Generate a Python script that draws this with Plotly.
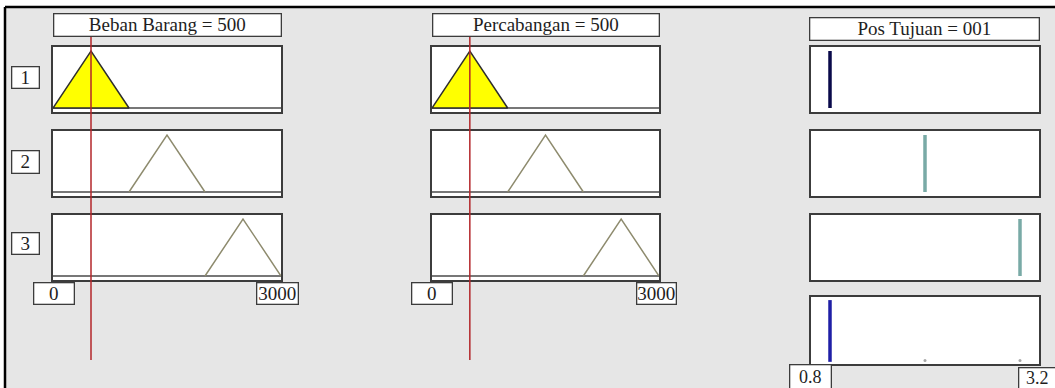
import plotly.graph_objects as go

# ---- data -----------------------------------------------------------------
input_names = ["Beban Barang", "Percabangan"]
input_values = [500, 500]
input_range = [0, 3000]
input_range_labels = ["0", "3000"]

# triangular membership functions (same for both inputs)
mf_left = [0, 1000, 2000]
mf_peak = [500, 1500, 2500]
mf_right = [1000, 2000, 3000]

rule_labels = ["1", "2", "3"]

output_name = "Pos Tujuan"
output_text = "001"
output_levels = [1, 2, 3]          # singleton outputs for rules 1..3
output_range = [0.8, 3.2]
output_range_labels = ["0.8", "3.2"]

# ---- page geometry (pixels) -----------------------------------------------
W, H = 1055, 388
col_x = [(53, 281), (432, 659), (811, 1039)]
row_y = [(47, 112), (131, 196), (215, 280), (297, 364)]
title_y = [(13, 36), (13, 36), (17, 40)]
row_label_x = (11, 39)
row_label_y = [(66, 88), (150, 173), (232, 254)]
range_label_y = (282, 304)
range_label_x = [[(33, 74), (256, 298)], [(411, 452), (636, 676)]]
out_label_x = [(789, 831), (1018, 1056)]
out_label_y = [(364, 389), (367, 389)]

FONT = "Liberation Serif"
FRAME = "#3c3c3c"
BG = "#e6e6e6"
YELLOW = "#ffff00"
UNFIRED = "#8e8b6e"
RED = "#b3262a"
NAVY = "#0a0a4a"
TEAL = "#79aaa6"
BLUE = "#1f1fa6"


def px_x(a, b):
    return [a / W, b / W]


def px_y(t, b):
    return [1 - b / H, 1 - t / H]


def tri(x, l, p, r):
    if x <= l or x >= r:
        return 0.0
    return (x - l) / (p - l) if x <= p else (r - x) / (r - p)


# rule firing strength = min of the input memberships
firing = []
for r in range(3):
    degs = [tri(v, mf_left[r], mf_peak[r], mf_right[r]) for v in input_values]
    firing.append(min(degs))

fig = go.Figure()
layout = {}
annotations = []
shapes = []


def add_axis(k, cx, ry, xr, yr):
    common = dict(showgrid=False, zeroline=False, showticklabels=False, ticks="",
                  showline=True, mirror=True, linecolor=FRAME, linewidth=1.6,
                  fixedrange=True)
    layout[f"xaxis{k}"] = dict(domain=px_x(*cx), range=xr, anchor=f"y{k}", **common)
    layout[f"yaxis{k}"] = dict(domain=px_y(*ry), range=yr, anchor=f"x{k}", **common)


def box(text, xs, ys, size=19):
    (x0, x1), (y0, y1) = xs, ys
    annotations.append(dict(
        text=text, xref="paper", yref="paper", x=x0 / W, y=1 - y0 / H,
        xanchor="left", yanchor="top", showarrow=False,
        width=x1 - x0 - 2, height=y1 - y0 - 2, borderpad=0,
        bgcolor="white", bordercolor=FRAME, borderwidth=1.3,
        font=dict(family=FONT, size=size, color="#1e1e1e"), align="center",
        valign="middle"))


YR = [-0.07, 1.07]

# ---- input columns ----------------------------------------------------------
for i, (name, val) in enumerate(zip(input_names, input_values)):
    for r in range(3):
        k = i * 3 + r + 1
        add_axis(k, col_x[i], row_y[r], input_range, YR)
        l, p, rr = mf_left[r], mf_peak[r], mf_right[r]
        d = tri(val, l, p, rr)
        # baseline at zero membership
        fig.add_trace(go.Scatter(x=input_range, y=[0, 0], mode="lines",
                                 line=dict(color="#4a4a4a", width=1.5),
                                 xaxis=f"x{k}", yaxis=f"y{k}", hoverinfo="skip"))
        if d > 0:
            xs = [l, l + d * (p - l), rr - d * (rr - p), rr, l]
            ys = [0, d, d, 0, 0]
            fig.add_trace(go.Scatter(x=xs, y=ys, mode="lines", fill="toself",
                                     fillcolor=YELLOW,
                                     line=dict(color="#2e2e2e", width=1.5),
                                     xaxis=f"x{k}", yaxis=f"y{k}", hoverinfo="skip"))
        else:
            fig.add_trace(go.Scatter(x=[l, p, rr], y=[0, 1, 0], mode="lines",
                                     line=dict(color=UNFIRED, width=1.5),
                                     xaxis=f"x{k}", yaxis=f"y{k}", hoverinfo="skip"))
    # input value marker line
    shapes.append(dict(type="line", xref=f"x{i * 3 + 1}", yref="paper",
                       x0=val, x1=val, y0=1 - 360 / H, y1=1 - 36 / H,
                       line=dict(color=RED, width=1.5), layer="above"))
    box(f"{name} = {val}", col_x[i], title_y[i])
    for j, lab in enumerate(input_range_labels):
        box(lab, range_label_x[i][j], range_label_y)

# ---- output column ----------------------------------------------------------
for r in range(3):
    k = 7 + r
    add_axis(k, col_x[2], row_y[r], output_range, YR)
    color = NAVY if firing[r] > 0 else TEAL
    fig.add_trace(go.Scatter(x=[output_levels[r]] * 2, y=[0, 1], mode="lines",
                             line=dict(color=color, width=3.5),
                             xaxis=f"x{k}", yaxis=f"y{k}", hoverinfo="skip"))

# aggregated output
k = 10
add_axis(k, col_x[2], row_y[3], output_range, [-0.035, 1.05])
for r in range(3):
    if firing[r] > 0:
        fig.add_trace(go.Scatter(x=[output_levels[r]] * 2, y=[0, firing[r]],
                                 mode="lines", line=dict(color=BLUE, width=3.5),
                                 xaxis=f"x{k}", yaxis=f"y{k}", hoverinfo="skip"))
    else:
        fig.add_trace(go.Scatter(x=[output_levels[r]], y=[0.02], mode="markers",
                                 marker=dict(color="#a8a8a8", size=3),
                                 xaxis=f"x{k}", yaxis=f"y{k}", hoverinfo="skip"))

box(f"{output_name} = {output_text}", (809, 1039), title_y[2])
for j, lab in enumerate(output_range_labels):
    box(lab, out_label_x[j], out_label_y[j], size=18)

for r, lab in enumerate(rule_labels):
    box(lab, row_label_x, row_label_y[r])

# ---- window frame -----------------------------------------------------------
shapes = [
    dict(type="rect", xref="paper", yref="paper", x0=0, x1=1, y0=1 - 7 / H, y1=1,
         fillcolor="white", line=dict(width=0), layer="below"),
    dict(type="rect", xref="paper", yref="paper", x0=0, x1=5 / W, y0=0, y1=1,
         fillcolor="white", line=dict(width=0), layer="below"),
    dict(type="line", xref="paper", yref="paper", x0=5 / W, x1=1, y0=1 - 7 / H,
         y1=1 - 7 / H, line=dict(color="black", width=2.5), layer="below"),
    dict(type="line", xref="paper", yref="paper", x0=5 / W, x1=5 / W, y0=0,
         y1=1 - 7 / H, line=dict(color="black", width=2.5), layer="below"),
] + shapes

fig.update_layout(
    width=W, height=H, margin=dict(l=0, r=0, t=0, b=0),
    paper_bgcolor=BG, plot_bgcolor="white", showlegend=False,
    annotations=annotations, shapes=shapes, **layout)

fig.write_html("out.html", config={"displayModeBar": False})
